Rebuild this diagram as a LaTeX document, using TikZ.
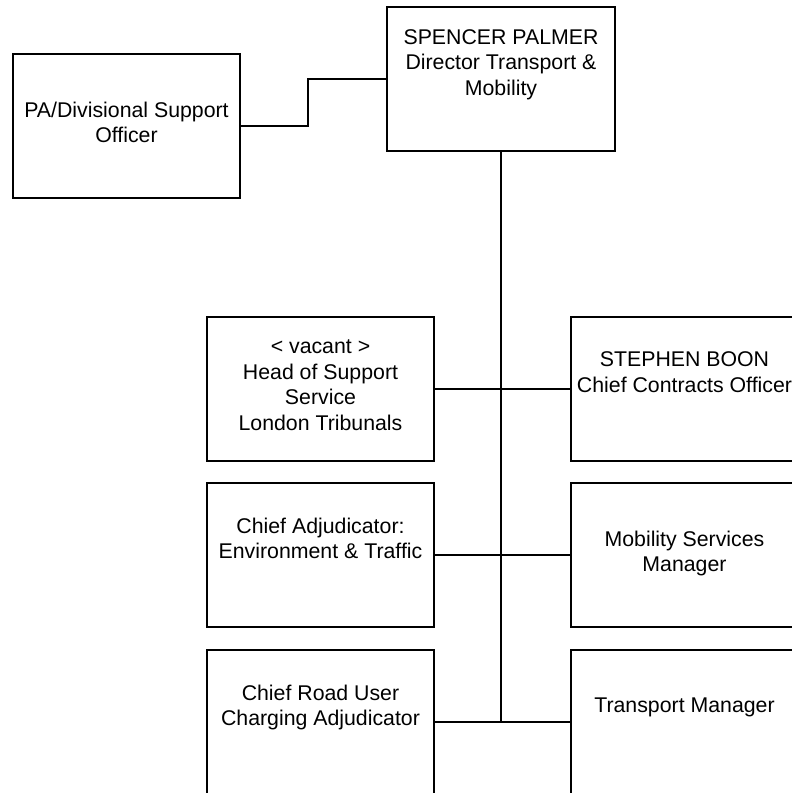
\documentclass[tikz,border=0pt]{standalone}
\usepackage{fontspec}
\setmainfont{Liberation Sans}
\colorlet{post line color}{black}
\tikzset{
    x={1pt},
    y={-1pt},
    post/.style={
        draw={post line color},
        rectangle,
        line width={1.6pt},
        inner sep=0pt,
        outer sep=0pt,
        minimum width={227},
        minimum height={144},
        align=center,
        font={\fontsize{21.3}{25.7}\selectfont},
        execute at begin node={\rule{0pt}{30pt}},
        execute at end node={\strut},
    },
    link/.style={
        draw={post line color},
        line width={1.6pt},
    },
}

\begin{document}
\begin{tikzpicture}
\useasboundingbox (0,0) rectangle (792,793);
\clip (0,0) rectangle (792,793);
% posts
\node[post, minimum width={228}] (director) at (501,79) {SPENCER PALMER\\Director Transport \&\\Mobility\\};
\node[post] (pa) at (126.5,126) {PA/Divisional Support\\Officer};
\node[post] (support) at (320.5,389) {< vacant >\\Head of Support\\Service\\London Tribunals};
\node[post] (contracts) at (684.5,389) {STEPHEN BOON\\Chief Contracts Officer\\};
\node[post] (adjudicator) at (320.5,555) {Chief Adjudicator:\\Environment \& Traffic\\};
\node[post] (mobility) at (684.5,555) {Mobility Services\\Manager};
\node[post] (charging) at (320.5,722) {Chief Road User\\Charging Adjudicator\\};
\node[post] (transport) at (684.5,722) {Transport Manager\\};
% links
\coordinate (trunk end) at (director.south |- transport.west);
\draw[link] (pa.east) -- ++(68,0) |- (director.west);
\draw[link] (director.south) -- (trunk end);
\draw[link] (support.east) -- (contracts.west);
\draw[link] (adjudicator.east) -- (mobility.west);
\draw[link] (charging.east) -- (transport.west);
\end{tikzpicture}
\end{document}
